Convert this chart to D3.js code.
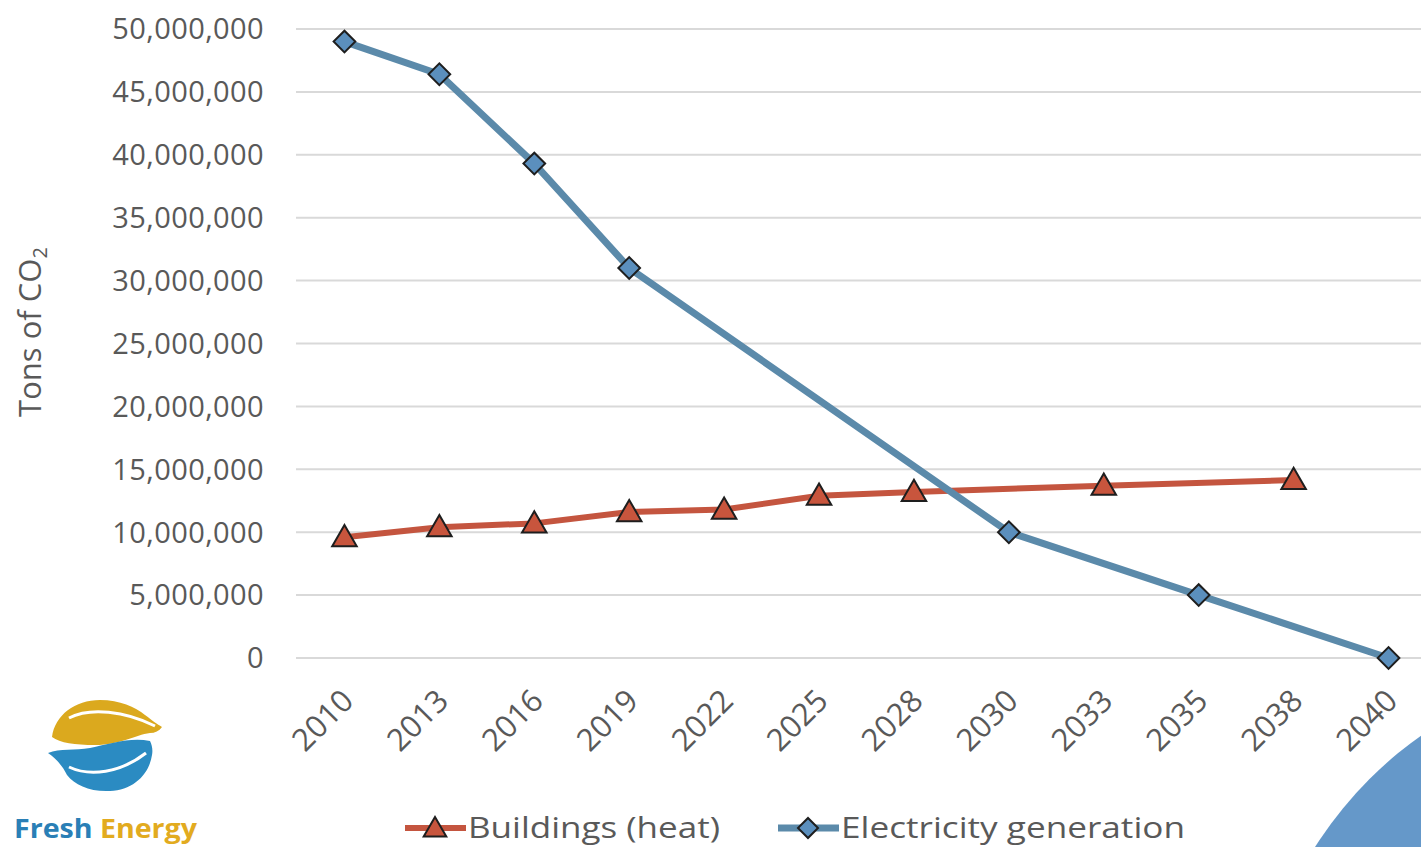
<!DOCTYPE html>
<html>
<head>
<meta charset="utf-8">
<script src="https://cdn.jsdelivr.net/npm/d3@7"></script>
<style>
  html, body { margin: 0; padding: 0; background: #fff; }
  svg { display: block; }
</style>
</head>
<body>
<script>
// Years on the category axis
const years = ["2010", "2013", "2016", "2019", "2022", "2025", "2028", "2030", "2033", "2035", "2038", "2040"];
// Tons of CO2 per series (null = no estimate for that year; the line bridges it)
const buildingsHeat = [9.6e6, 10.4e6, 10.7e6, 11.6e6, 11.8e6, 12.9e6, 13.2e6, null, 13.7e6, null, 14.15e6, null];
const electricityGen = [49.0e6, 46.4e6, 39.3e6, 31.0e6, null, null, null, 10.0e6, null, 5.0e6, null, 0];
// Value axis ticks
const yTicks = [0, 5e6, 10e6, 15e6, 20e6, 25e6, 30e6, 35e6, 40e6, 45e6, 50e6];
const seriesNames = ["Buildings (heat)", "Electricity generation"];

const W = 1421, H = 847;
const FONT = "'Open Sans', 'Noto Sans', sans-serif";
const TEXT = "#595959";

const svg = d3.select("body").append("svg")
  .attr("width", W).attr("height", H)
  .style("font-family", FONT);

const x = d3.scalePoint().domain(years).range([297, 1436]).padding(0.5);
const y = d3.scaleLinear().domain([0, 50e6]).range([658, 29]);

// Gridlines
svg.append("g").selectAll("line").data(yTicks).join("line")
  .attr("x1", 296).attr("x2", W)
  .attr("y1", d => y(d)).attr("y2", d => y(d))
  .attr("stroke", "#d9d9d9").attr("stroke-width", 2);

// Value axis labels
const yAxis = d3.axisLeft(y).tickValues(yTicks).tickFormat(d3.format(",")).tickSize(0).tickPadding(0);
const yg = svg.append("g").attr("transform", "translate(264,0)").call(yAxis);
yg.select(".domain").remove();
yg.selectAll("text")
  .attr("fill", TEXT).style("font-size", "29px").style("font-family", FONT)
  .style("letter-spacing", "0.4px").attr("dy", "0.34em");

// Category axis labels, rotated
const xAxis = d3.axisBottom(x).tickSize(0).tickPadding(0);
const xg = svg.append("g").call(xAxis);
xg.select(".domain").remove();
xg.selectAll(".tick").attr("transform", d => `translate(${x(d) - 5},687)`);
xg.selectAll("text")
  .attr("fill", TEXT).style("font-size", "31px").style("font-family", FONT)
  .attr("text-anchor", "end").attr("y", 0).attr("dy", "0.72em")
  .attr("transform", "rotate(-45)");

// Axis title
const title = svg.append("text")
  .attr("transform", "translate(41,332) rotate(-90)")
  .attr("text-anchor", "middle")
  .attr("fill", TEXT).style("font-size", "31px");
title.append("tspan").text("Tons of CO");
title.append("tspan").text("2").attr("dy", "0.3em").style("font-size", "20px");

// Series styles
const series = [
  { name: seriesNames[0], values: buildingsHeat, line: "#c4553f", fill: "#c8553d", shape: d3.symbolTriangle, size: 260, width: 6, rot: 0, textLen: 252 },
  { name: seriesNames[1], values: electricityGen, line: "#5b8aaa", fill: "#5b8fbd", shape: d3.symbolSquare, size: 235, width: 7, rot: 45, textLen: 344 }
];

const lineGen = d3.line().x(d => x(d.year)).y(d => y(d.value));

series.forEach(s => {
  const pts = years.map((yr, i) => ({ year: yr, value: s.values[i] })).filter(d => d.value !== null);
  svg.append("path").datum(pts)
    .attr("d", lineGen).attr("fill", "none")
    .attr("stroke", s.line).attr("stroke-width", s.width)
    .attr("stroke-linejoin", "round");
  s.pts = pts;
});

series.forEach(s => {
  const dy = s.shape === d3.symbolTriangle ? 2 : 0;
  svg.append("g").selectAll("path").data(s.pts).join("path")
    .attr("d", d3.symbol().type(s.shape).size(s.size))
    .attr("transform", d => `translate(${x(d.year)},${y(d.value) + dy}) rotate(${s.rot})`)
    .attr("fill", s.fill).attr("stroke", "#1e1e1e").attr("stroke-width", 2);
});

// Legend
const legendPos = [405, 778];
series.forEach((s, i) => {
  const g = svg.append("g").attr("transform", `translate(${legendPos[i]},828)`);
  g.append("line").attr("x1", 0).attr("x2", 61).attr("y1", 0).attr("y2", 0)
    .attr("stroke", s.line).attr("stroke-width", s.width);
  g.append("path").attr("d", d3.symbol().type(s.shape).size(s.size * 0.85))
    .attr("transform", `translate(30,${s.shape === d3.symbolTriangle ? 2 : 0}) rotate(${s.rot})`)
    .attr("fill", s.fill).attr("stroke", "#1e1e1e").attr("stroke-width", 2);
  g.append("text").attr("x", 63).attr("y", 10)
    .attr("fill", TEXT).style("font-size", "30px")
    .attr("textLength", s.textLen).attr("lengthAdjust", "spacingAndGlyphs")
    .text(s.name);
});

// Decorative circle at lower right
svg.append("circle").attr("cx", 1650).attr("cy", 1060).attr("r", 397).attr("fill", "#6598c9");

// Fresh Energy logo
const logo = svg.append("g").attr("transform", "translate(105,745)");
logo.append("path")
  .attr("d", "M-53,-8 C-50,-30 -30,-45 -5,-45 C15,-45 30,-38 40,-30 C48,-24 52,-21 57,-18 C54,-14 50,-12 45,-12 C30,-10 15,0 -10,0 C-30,0 -45,-2 -53,-8 Z")
  .attr("fill", "#dba91e");
logo.append("path")
  .attr("d", "M-36,-27 C-15,-38 20,-34 50,-19")
  .attr("fill", "none").attr("stroke", "#fff").attr("stroke-width", 3);
logo.append("path")
  .attr("d", "M-57,8 C-45,3 -30,6 -15,3 C5,-1 25,-8 45,-4 C47,0 48,5 47,10 C44,30 28,45 5,46 C-15,47 -30,40 -38,30 C-42,22 -48,14 -57,8 Z")
  .attr("fill", "#2b8bc2");
logo.append("path")
  .attr("d", "M-36,22 C-15,32 15,28 41,8")
  .attr("fill", "none").attr("stroke", "#fff").attr("stroke-width", 3);
const brand = svg.append("text").attr("x", 14).attr("y", 838)
  .style("font-size", "27px").style("font-weight", "700")
  .attr("textLength", 183).attr("lengthAdjust", "spacingAndGlyphs");
brand.append("tspan").text("Fresh").attr("fill", "#2a7fb6");
brand.append("tspan").text(" Energy").attr("fill", "#e2ab1f");
</script>
</body>
</html>
